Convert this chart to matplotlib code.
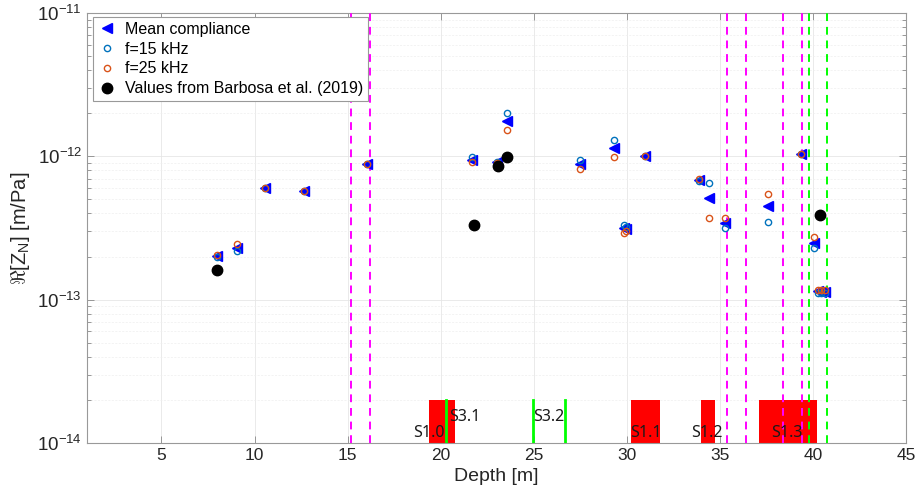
import matplotlib
matplotlib.use("Agg")
import matplotlib.pyplot as plt
import numpy as np
from matplotlib.ticker import FixedLocator, NullFormatter, LogFormatterSciNotation

plt.rcParams['font.family'] = ['Liberation Sans', 'DejaVu Sans']
plt.rcParams['mathtext.fontset'] = 'custom'
plt.rcParams['mathtext.rm'] = 'Liberation Sans'
plt.rcParams['mathtext.it'] = 'Liberation Sans:italic'
plt.rcParams['mathtext.bf'] = 'Liberation Sans:bold'

# ---------------- data ----------------
depth = [8.0, 9.06, 10.56, 12.67, 16.02, 21.7, 23.04, 23.56, 27.5, 29.3,
         29.85, 29.95, 31.0, 33.9, 34.4, 35.3, 37.6, 39.35, 40.05,
         40.25, 40.45, 40.65]
mean_comp = [2.02e-13, 2.29e-13, 6.04e-13, 5.73e-13, 8.84e-13, 9.5e-13, 9.1e-13,
             1.76e-12, 8.8e-13, 1.15e-12, 3.14e-13, 3.1e-13, 1.01e-12, 6.8e-13,
             5.1e-13, 3.45e-13, 4.5e-13, 1.04e-12, 2.48e-13,
             1.15e-13, 1.14e-13, 1.14e-13]
f15 = [2.0e-13, 2.18e-13, 6.04e-13, 5.73e-13, 8.84e-13, 9.9e-13, 9.2e-13,
       2.0e-12, 9.4e-13, 1.31e-12, 3.3e-13, 3.2e-13, 1.01e-12, 6.7e-13,
       6.5e-13, 3.15e-13, 3.5e-13, 1.04e-12, 2.3e-13,
       1.12e-13, 1.12e-13, 1.12e-13]
f25 = [2.04e-13, 2.43e-13, 6.04e-13, 5.73e-13, 8.9e-13, 9.2e-13, 9.0e-13,
       1.52e-12, 8.2e-13, 9.9e-13, 2.93e-13, 3.0e-13, 1.01e-12, 7.0e-13,
       3.7e-13, 3.7e-13, 5.5e-13, 1.04e-12, 2.73e-13,
       1.17e-13, 1.17e-13, 1.17e-13]

barbosa_depth = [8.0, 21.8, 23.1, 23.56, 40.4]
barbosa_val = [1.61e-13, 3.3e-13, 8.5e-13, 9.9e-13, 3.9e-13]

magenta_lines = [15.2, 16.2, 35.4, 36.4, 38.4, 39.4]
green_dashed = [39.78, 40.74]
green_solid = [20.3, 24.97, 26.67]

red_start = [19.4, 30.23, 33.97, 37.1]
red_end = [20.77, 31.77, 34.73, 40.24]

layer_labels = ['S1.0', 'S3.1', 'S3.2', 'S1.1', 'S1.2', 'S1.3']
layer_x = [18.5, 20.45, 24.95, 30.2, 33.45, 37.75]
layer_y = [1.18e-14, 1.52e-14, 1.52e-14, 1.18e-14, 1.18e-14, 1.18e-14]

bar_bottom = 1e-14
bar_top = 2e-14

x_ticks = [5, 10, 15, 20, 25, 30, 35, 40, 45]
y_ticks = [1e-14, 1e-13, 1e-12, 1e-11]

# ---------------- figure ----------------
fig = plt.figure(figsize=(9.18, 4.97), dpi=100)
ax = fig.add_axes([87/918, 54/497, (906-87)/918, (443-13)/497])
ax.set_yscale('log')
ax.set_xlim(1, 45)
ax.set_ylim(1e-14, 1e-11)

# red bars
widths = [e - s for s, e in zip(red_start, red_end)]
ax.bar(red_start, [bar_top - bar_bottom] * len(red_start), width=widths,
       bottom=bar_bottom, align='edge', color='#ff0000', edgecolor='none', zorder=2)

for gx in green_solid:
    ax.plot([gx, gx], [bar_bottom, bar_top], color='#00ff00', lw=2.0, zorder=3)

for mx in magenta_lines:
    ax.axvline(mx, color='#ff00ff', lw=1.4, ls=(0, (4, 3)), zorder=3)
for gx in green_dashed:
    ax.axvline(gx, color='#00ff00', lw=1.4, ls=(0, (4, 3)), zorder=3)

for lab, lx, ly in zip(layer_labels, layer_x, layer_y):
    ax.text(lx, ly, lab, ha='left', va='center', fontsize=11.5,
            family=['Noto Sans', 'DejaVu Sans'], color='#1a1a1a', zorder=5)

ax.plot(depth, mean_comp, ls='none', marker='<', ms=7.5, color='#0000ff',
        mec='#0000ff', label='Mean compliance', zorder=6)
ax.plot(depth, f15, ls='none', marker='o', ms=4.5, mfc='none', mec='#0072BD',
        mew=1.0, label='f=15 kHz', zorder=7)
ax.plot(depth, f25, ls='none', marker='o', ms=4.5, mfc='none', mec='#D95319',
        mew=1.0, label='f=25 kHz', zorder=8)
ax.plot(barbosa_depth, barbosa_val, ls='none', marker='o', ms=7.5, color='black',
        label='Values from Barbosa et al. (2019)', zorder=9)

# ticks / grid
ax.xaxis.set_major_locator(FixedLocator(x_ticks))
ax.yaxis.set_major_locator(FixedLocator(y_ticks))
ax.yaxis.set_major_formatter(LogFormatterSciNotation())
minor_y = [m * 10.0 ** e for e in (-14, -13, -12) for m in range(2, 10)]
ax.yaxis.set_minor_locator(FixedLocator(minor_y))
ax.yaxis.set_minor_formatter(NullFormatter())
ax.tick_params(which='both', direction='in', top=True, right=True,
               colors='#262626')
ax.tick_params(axis='x', labelsize=12.5)
ax.tick_params(axis='y', labelsize=13.5)
ax.tick_params(which='major', length=5, width=0.6, color='#888888')
ax.tick_params(which='minor', length=3, width=0.6, color='#888888')
ax.grid(True, which='major', color='#e6e6e6', lw=0.6, zorder=0)
ax.grid(True, which='minor', axis='y', color='#eeeeee', lw=0.5, ls=(0, (3, 2)), zorder=0)
ax.set_axisbelow(True)
for sp in ax.spines.values():
    sp.set_color('#999999')
    sp.set_linewidth(0.8)

ax.set_xlabel('Depth [m]', fontsize=14, color='#262626', labelpad=4)
ax.set_ylabel(r'$\Re$[Z$_\mathrm{N}$] [m/Pa]', fontsize=14.5, color='#262626',
              labelpad=4)

leg = ax.legend(loc='upper left', bbox_to_anchor=(6/819, 1 - 4/430), borderaxespad=0,
                fontsize=11.5, frameon=True, fancybox=False, edgecolor='#999999',
                handletextpad=0.5, borderpad=0.3, labelspacing=0.3, handlelength=1.2,
                framealpha=1)
leg.get_frame().set_linewidth(0.8)

fig.savefig('out.png', dpi=100)
